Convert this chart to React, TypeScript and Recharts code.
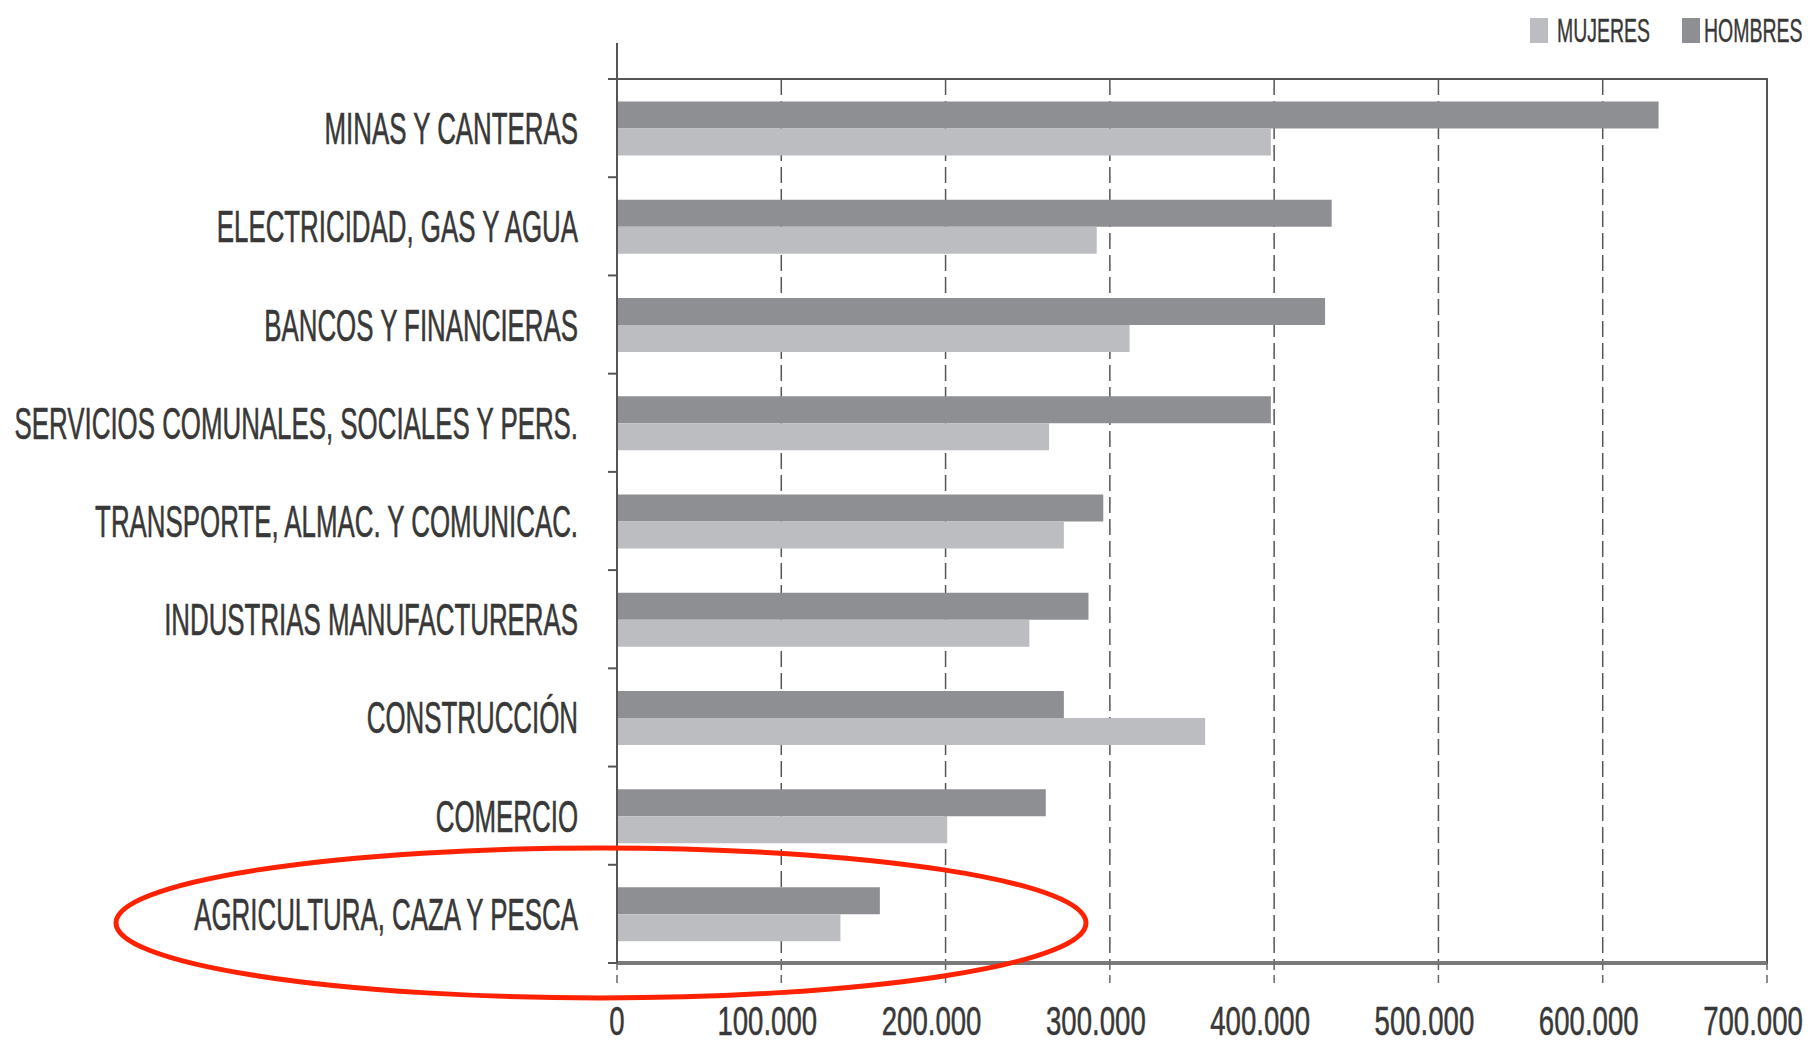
import React from 'react';
import {
  BarChart,
  Bar,
  XAxis,
  YAxis,
  CartesianGrid,
  ReferenceArea,
  ReferenceDot,
} from 'recharts';

const categories = [
  'MINAS Y CANTERAS',
  'ELECTRICIDAD, GAS Y AGUA',
  'BANCOS Y FINANCIERAS',
  'SERVICIOS COMUNALES, SOCIALES Y PERS.',
  'TRANSPORTE, ALMAC. Y COMUNICAC.',
  'INDUSTRIAS MANUFACTURERAS',
  'CONSTRUCCIÓN',
  'COMERCIO',
  'AGRICULTURA, CAZA Y PESCA',
];
const hombres = [634000, 435000, 431000, 398000, 296000, 287000, 272000, 261000, 160000];
const mujeres = [398000, 292000, 312000, 263000, 272000, 251000, 358000, 201000, 136000];
const xTicks = [0, 100000, 200000, 300000, 400000, 500000, 600000, 700000];
const xTickLabels = ['0', '100.000', '200.000', '300.000', '400.000', '500.000', '600.000', '700.000'];
const seriesNames = { mujeres: 'MUJERES', hombres: 'HOMBRES' };
const highlighted = 'AGRICULTURA, CAZA Y PESCA';

const data = categories.map((name, i) => ({ name, hombres: hombres[i], mujeres: mujeres[i] }));

const W = 1810;
const H = 1045;
const TOP = 79;
const RIGHT = 43;
const XAXIS_H = 82;
const YAXIS_W = 617;
const LABEL_GAP = 39;
const BAND_HALF = (H - TOP - XAXIS_H) / categories.length / 2;

const FONT = "'Liberation Sans', Arial, sans-serif";
const TEXT = '#383838';
const LINE = '#555';
const DARK = '#8e8f93';
const LIGHT = '#bcbdc0';

const CategoryTick = (props: any) => {
  const { x, y, payload, index } = props;
  const ax = x + LABEL_GAP;
  const yTop = y - BAND_HALF;
  const yBottom = y + BAND_HALF;
  const isLast = index === categories.length - 1;
  return (
    <g>
      <line x1={ax - 9} y1={yTop} x2={ax} y2={yTop} stroke={LINE} strokeWidth={2} />
      {index === 0 && <line x1={ax} y1={yTop - 36} x2={ax} y2={yTop} stroke={LINE} strokeWidth={2} />}
      {isLast && <line x1={ax - 9} y1={yBottom} x2={ax} y2={yBottom} stroke={LINE} strokeWidth={2} />}
      <text
        transform={`translate(${x},${y + 16}) scale(0.575,1)`}
        textAnchor="end"
        fontFamily={FONT}
        fontSize={45}
        fill={TEXT}
        stroke={TEXT}
        strokeWidth={0.6}
      >
        {payload.value}
      </text>
    </g>
  );
};

const XTick = (props: any) => {
  const { x, y, payload } = props;
  const idx = xTicks.indexOf(payload.value);
  const label = idx >= 0 ? xTickLabels[idx] : String(payload.value);
  const shift = label.length > 1 ? -14 : 0;
  return (
    <text
      transform={`translate(${x + shift},${y + 52}) scale(0.69,1)`}
      textAnchor="middle"
      fontFamily={FONT}
      fontSize={40}
      fill={TEXT}
      stroke={TEXT}
      strokeWidth={0.5}
    >
      {label}
    </text>
  );
};

const EllipseShape = (props: any) => {
  const { cx, cy } = props;
  if (cx == null || cy == null) return null;
  return (
    <ellipse cx={cx - 16} cy={cy + 9} rx={485} ry={75} fill="none" stroke="#ff2200" strokeWidth={5} />
  );
};

const LegendBox = () => (
  <svg width={W} height={60} style={{ position: 'absolute', left: 0, top: 0 }}>
    <rect x={1530} y={18} width={18} height={25} fill={LIGHT} />
    <text transform="translate(1557,42) scale(0.59,1)" fontFamily={FONT} fontSize={33} fill={TEXT} stroke={TEXT} strokeWidth={0.4}>
      {seriesNames.mujeres}
    </text>
    <rect x={1682} y={18} width={18} height={25} fill={DARK} />
    <text transform="translate(1704,42) scale(0.59,1)" fontFamily={FONT} fontSize={33} fill={TEXT} stroke={TEXT} strokeWidth={0.4}>
      {seriesNames.hombres}
    </text>
  </svg>
);

export default function App() {
  return (
    <div style={{ position: 'absolute', left: 0, top: 0, width: W, height: H, background: '#fff' }}>
      <BarChart
        width={W}
        height={H}
        layout="vertical"
        data={data}
        margin={{ top: TOP, right: RIGHT, bottom: 0, left: 0 }}
        barCategoryGap="23%"
        barGap={0}
      >
        <CartesianGrid horizontal={false} stroke={LINE} strokeDasharray="16 6" strokeWidth={1.5} />
        <XAxis
          type="number"
          dataKey="hombres"
          domain={[0, 700000]}
          ticks={xTicks}
          allowDataOverflow
          height={XAXIS_H}
          tickSize={20}
          tickMargin={0}
          axisLine={{ stroke: '#7a7a7a', strokeWidth: 4 }}
          tickLine={{ stroke: '#666', strokeDasharray: '8 5', strokeWidth: 1.5 }}
          tick={<XTick />}
          interval={0}
        />
        <YAxis
          type="category"
          dataKey="name"
          width={YAXIS_W}
          axisLine={{ stroke: LINE, strokeWidth: 2 }}
          tickLine={false}
          tickSize={0}
          tickMargin={LABEL_GAP}
          tick={<CategoryTick />}
          interval={0}
        />
        <ReferenceArea x1={0} x2={700000} fill="none" fillOpacity={0} stroke={LINE} strokeWidth={2} ifOverflow="visible" />
        <Bar dataKey="hombres" fill={DARK} isAnimationActive={false} />
        <Bar dataKey="mujeres" fill={LIGHT} isAnimationActive={false} />
        <ReferenceDot x={0} y={highlighted} r={1} ifOverflow="visible" shape={<EllipseShape />} />
      </BarChart>
      <LegendBox />
    </div>
  );
}
